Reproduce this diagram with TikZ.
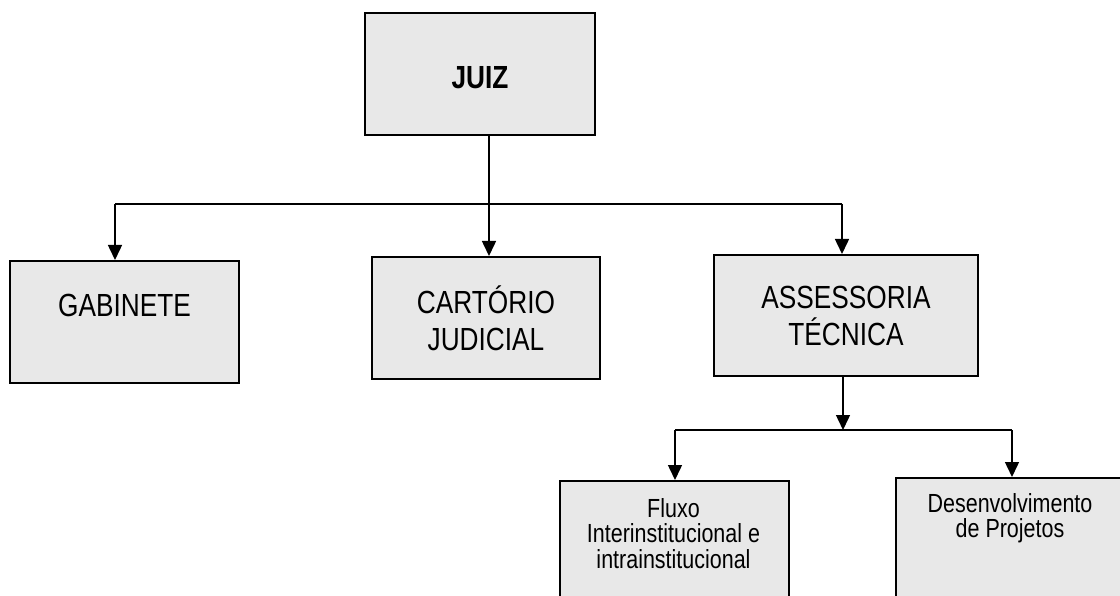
\documentclass[tikz,border=0pt]{standalone}
\usepackage{fontspec}
\setmainfont{Liberation Sans}[FakeStretch=0.82]
\usetikzlibrary{arrows.meta}
\definecolor{boxgray}{RGB}{232,232,232}

\begin{document}
\begin{tikzpicture}[x=1pt,y=-1pt,
  box/.style={draw,line width=2pt,fill=boxgray,anchor=north west,align=center,inner sep=0pt,
    font=\fontsize{32}{37}\selectfont},
  boxtext/.style={anchor=north,align=center,inner sep=0pt,font=\fontsize{26.2}{25.5}\selectfont},
  link/.style={line width=1.5pt},
  arr/.style={link,-{Triangle[width=14pt,length=15pt]}}]
  \useasboundingbox (0,0) rectangle (1120,596);
  \clip (0,0) rectangle (1120,596);
  \node[box,minimum width=230,minimum height=122,text height=30pt] (juiz) at (364,12) {\textbf{JUIZ}};
  \node[box,minimum width=229,minimum height=122,text depth=33pt] (gab) at (9,260) {GABINETE};
  \node[box,minimum width=228,minimum height=122] (cart) at (371,256) {CARTÓRIO\\JUDICIAL};
  \node[box,minimum width=264,minimum height=121] (ass) at (713,254) {ASSESSORIA\\TÉCNICA};
  \node[box,minimum width=229,minimum height=170] (flx) at (559,480) {};
  \node[box,minimum width=230,minimum height=170] (dev) at (895,477) {};
  \node[boxtext] (flxtxt) at (673.5,498) {Fluxo\\Interinstitucional e\\intrainstitucional};
  \node[boxtext,font=\fontsize{26.2}{25}\selectfont] (devtxt) at (1010,493) {Desenvolvimento\\de Projetos};
  \coordinate (busL) at (115,204);
  \coordinate (busM) at (489,204);
  \coordinate (busR) at (842,204);
  \coordinate (subM) at (843,430);
  \coordinate (subL) at (675,430);
  \coordinate (subR) at (1012,430);
  \draw[link] (busM |- juiz.south) -- (busM);
  \draw[link] (busL) -- (busR);
  \draw[arr] (busL) -- (busL |- gab.north);
  \draw[arr] (busM) -- (busM |- cart.north);
  \draw[arr] (busR) -- (busR |- ass.north);
  \draw[arr] (subM |- ass.south) -- (subM);
  \draw[link] (subL) -- (subR);
  \draw[arr] (subL) -- (subL |- flx.north);
  \draw[arr] (subR) -- (subR |- dev.north);
\end{tikzpicture}
\end{document}
